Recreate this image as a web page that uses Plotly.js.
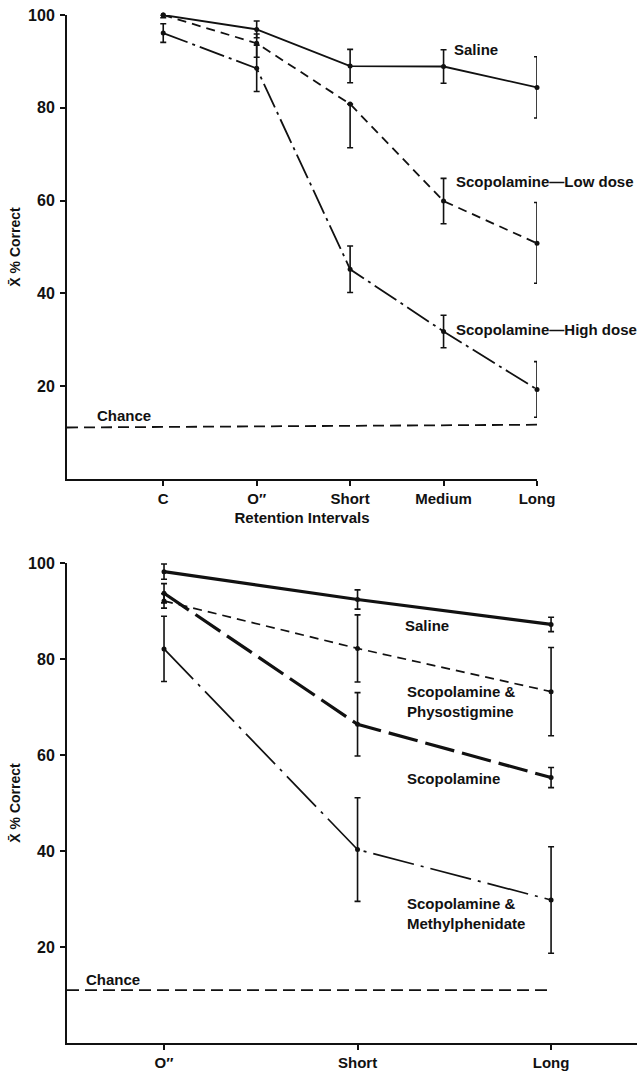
<!DOCTYPE html>
<html>
<head>
<meta charset="utf-8">
<script src="https://cdn.plot.ly/plotly-3.0.1.min.js"></script>
<style>html,body{margin:0;padding:0;background:#fff;}#chart{width:639px;height:1072px;}</style>
</head>
<body>
<div id="chart"></div>
<script>
// ---- Top panel data ----
const topCats = ['C', 'O\u2033', 'Short', 'Medium', 'Long'];
const topPos = [1, 2, 3, 4, 5];
const topSaline = [100, 96.9, 89.0, 88.9, 84.4];
const topSalineErr = [0.6, 1.8, 3.6, 3.6, 6.6];
const topLow = [100, 93.9, 80.8, 59.9, 50.8];
const topLowErrPlus = [0, 2, 0, 4.9, 8.8];
const topLowErrMinus = [0, 3, 9.4, 4.9, 8.6];
const topHigh = [96.1, 88.5, 45.2, 31.8, 19.3];
const topHighErr = [2, 5, 5, 3.5, 6];
const chanceTop = [11.1, 11.7];

// ---- Bottom panel data ----
const botCats = ['O\u2033', 'Short', 'Long'];
const botPos = [1, 2, 3];
const botSaline = [98.2, 92.4, 87.2];
const botSalineErr = [1.6, 2, 1.5];
const botPhyso = [92.1, 82.2, 73.2];
const botPhysoErr = [1.5, 7, 9.2];
const botScop = [93.7, 66.4, 55.3];
const botScopErr = [2, 6.6, 2.1];
const botMethyl = [82.1, 40.3, 29.8];
const botMethylErr = [6.8, 10.8, 11.1];
const chanceBot = [11, 11];

const yTicks = [20, 40, 60, 80, 100];
const topXRange = [-0.03, 5];
const botXRange = [0.4987, 3.444];

const INK = '#111';
const FONT = 'Liberation Sans, Arial, Helvetica, sans-serif';

function series(x, y, err, dash, width, xa, ya, errMinus) {
  const e = {type: 'data', array: err, color: INK, thickness: 1.6, width: 3, visible: true};
  if (errMinus) { e.symmetric = false; e.arrayminus = errMinus; }
  return {
    x: x, y: y, xaxis: xa, yaxis: ya, type: 'scatter', mode: 'lines+markers',
    line: {color: INK, width: width, dash: dash},
    marker: {color: INK, size: 5},
    error_y: e, cliponaxis: false, hoverinfo: 'skip'
  };
}

const traces = [
  series(topPos, topSaline, topSalineErr, 'solid', 1.8, 'x', 'y'),
  series(topPos, topLow, topLowErrPlus, '9px,6px', 1.8, 'x', 'y', topLowErrMinus),
  series(topPos, topHigh, topHighErr, '26px,5px,3px,5px', 1.8, 'x', 'y'),
  {x: [topXRange[0], topPos[topPos.length - 1]], y: chanceTop, xaxis: 'x', yaxis: 'y', mode: 'lines',
   line: {color: INK, width: 1.8, dash: '11px,6px'}, cliponaxis: false, hoverinfo: 'skip'},

  series(botPos, botSaline, botSalineErr, 'solid', 3.2, 'x2', 'y2'),
  series(botPos, botPhyso, botPhysoErr, '9px,6px', 1.7, 'x2', 'y2'),
  series(botPos, botScop, botScopErr, '30px,8px', 3.2, 'x2', 'y2'),
  series(botPos, botMethyl, botMethylErr, '42px,7px,3px,7px', 1.7, 'x2', 'y2'),
  {x: [botXRange[0], botPos[botPos.length - 1]], y: chanceBot, xaxis: 'x2', yaxis: 'y2', mode: 'lines',
   line: {color: INK, width: 1.8, dash: '12px,6px'}, cliponaxis: false, hoverinfo: 'skip'}
];

const xCommon = {
  showline: true, linecolor: INK, linewidth: 2, ticks: 'outside', ticklen: 5, tickwidth: 2,
  tickcolor: INK, showgrid: false, zeroline: false, fixedrange: true,
  tickfont: {family: FONT, size: 15, color: INK, weight: 700}
};
const yCommon = {
  showline: true, linecolor: INK, linewidth: 2, ticks: 'outside', ticklen: 5, tickwidth: 2,
  tickcolor: INK, showgrid: false, zeroline: false, range: [0, 100], tickvals: yTicks,
  ticktext: yTicks.map(String), fixedrange: true, ticklabelstandoff: 2,
  tickfont: {family: FONT, size: 16, color: INK, weight: 700},
  title: {text: 'X\u0304 % Correct', standoff: 4, font: {family: FONT, size: 14, color: INK, weight: 700}}
};

const annFont = {family: FONT, size: 15, color: INK, weight: 700};
function ann(x, y, text, xr, yr) {
  return {x: x, y: y, xref: xr, yref: yr, text: text, showarrow: false, xanchor: 'left',
          yanchor: 'middle', align: 'left', font: annFont};
}

const layout = {
  width: 639, height: 1072,
  margin: {l: 0, r: 0, t: 0, b: 0},
  paper_bgcolor: '#fff', plot_bgcolor: '#fff',
  showlegend: false,
  font: {family: FONT, color: INK},
  xaxis: Object.assign({}, xCommon, {
    domain: [67 / 639, 537 / 639], range: topXRange, tickvals: topPos, ticktext: topCats, anchor: 'y',
    title: {text: 'Retention Intervals', standoff: 6, font: {family: FONT, size: 15, color: INK, weight: 700}}
  }),
  yaxis: Object.assign({}, yCommon, {domain: [1 - 479 / 1072, 1 - 15 / 1072], anchor: 'x'}),
  xaxis2: Object.assign({}, xCommon, {
    domain: [67 / 639, 637 / 639], range: botXRange, tickvals: botPos, ticktext: botCats, anchor: 'y2'
  }),
  yaxis2: Object.assign({}, yCommon, {domain: [1 - 1043 / 1072, 1 - 563 / 1072], anchor: 'x2'}),
  annotations: [
    ann(4.09, 92.5, 'Saline', 'x', 'y'),
    ann(4.11, 64.2, 'Scopolamine\u2014Low dose', 'x', 'y'),
    ann(4.11, 32.3, 'Scopolamine\u2014High dose', 'x', 'y'),
    ann(0.27, 13.6, 'Chance', 'x', 'y'),
    ann(2.235, 86.9, 'Saline', 'x2', 'y2'),
    ann(2.245, 71.1, 'Scopolamine &amp;<br>Physostigmine', 'x2', 'y2'),
    ann(2.245, 55.2, 'Scopolamine', 'x2', 'y2'),
    ann(2.245, 26.9, 'Scopolamine &amp;<br>Methylphenidate', 'x2', 'y2'),
    ann(0.584, 13.3, 'Chance', 'x2', 'y2')
  ]
};

Plotly.newPlot('chart', traces, layout, {displayModeBar: false, staticPlot: true});
</script>
</body>
</html>
